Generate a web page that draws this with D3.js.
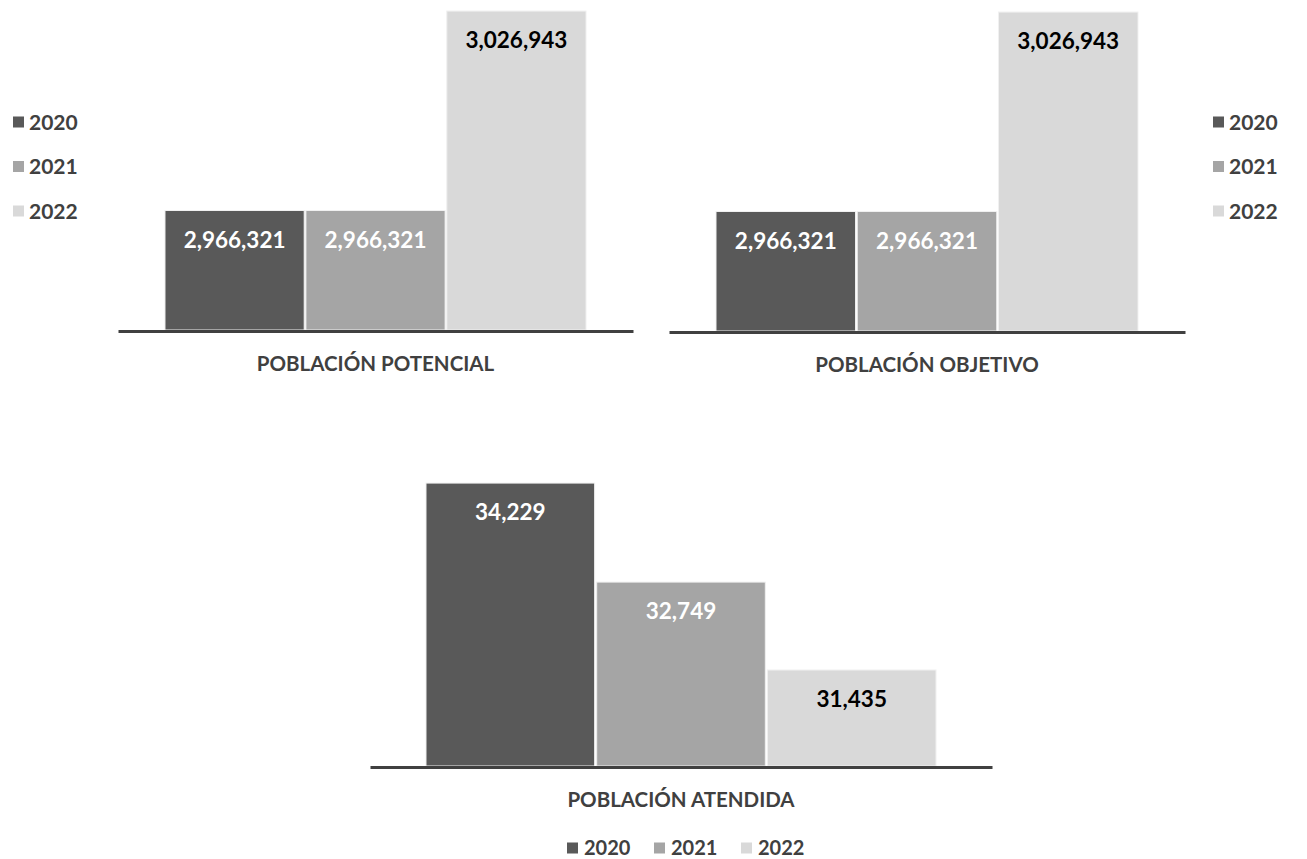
<!DOCTYPE html>
<html>
<head>
<meta charset="utf-8">
<script src="https://cdn.jsdelivr.net/npm/d3@7"></script>
<style>
  html, body { margin: 0; padding: 0; background: #ffffff; }
  svg { display: block; }
  text { font-family: Lato, "Open Sans", sans-serif; font-weight: 700; }
</style>
</head>
<body>
<svg id="chart" width="1307" height="859"></svg>
<script>
// ---- data ----
const years = ["2020", "2021", "2022"];
const categories = ["POBLACIÓN POTENCIAL", "POBLACIÓN OBJETIVO", "POBLACIÓN ATENDIDA"];
const potencial = [2966321, 2966321, 3026943];
const objetivo = [2966321, 2966321, 3026943];
const atendida = [34229, 32749, 31435];
const yDomainTop = [2930000, 3030000];
const yDomainBottom = [30000, 35000];

const colors = d3.scaleOrdinal().domain(years).range(["#595959", "#a5a5a5", "#d9d9d9"]);
const labelColors = d3.scaleOrdinal().domain(years).range(["#ffffff", "#ffffff", "#000000"]);
const fmt = d3.format(",");

const svg = d3.select("#chart");

const panels = [
  { cat: categories[0], values: potencial, axis: [118, 633], base: 330, pad: 0.1116, domain: yDomainTop, pxHeight: 329 },
  { cat: categories[1], values: objetivo, axis: [669, 1185], base: 331, pad: 0.1114, domain: yDomainTop, pxHeight: 329 },
  { cat: categories[2], values: atendida, axis: [370, 992], base: 766, pad: 0.1098, domain: yDomainBottom, pxHeight: 334.5 }
];

panels.forEach(p => {
  const g = svg.append("g");
  const xOuter = d3.scaleBand().domain([p.cat]).range(p.axis).paddingOuter(p.pad).paddingInner(0);
  const x = d3.scaleBand().domain(years)
    .range([xOuter(p.cat), xOuter(p.cat) + xOuter.bandwidth()])
    .paddingInner(0.012).paddingOuter(0);
  const y = d3.scaleLinear().domain(p.domain).range([p.base, p.base - p.pxHeight]);

  const data = years.map((yr, i) => ({ year: yr, value: p.values[i] }));

  g.selectAll("rect.bar").data(data).join("rect")
    .attr("class", "bar")
    .attr("x", d => x(d.year))
    .attr("width", x.bandwidth())
    .attr("y", d => y(d.value))
    .attr("height", d => y(p.domain[0]) - y(d.value))
    .attr("fill", d => colors(d.year))
    .attr("stroke", "#f0f0f0")
    .attr("stroke-width", 1);

  g.selectAll("text.val").data(data).join("text")
    .attr("class", "val")
    .attr("x", d => x(d.year) + x.bandwidth() / 2)
    .attr("y", d => y(d.value) + 37)
    .attr("text-anchor", "middle")
    .attr("font-size", 22.5)
    .attr("fill", d => labelColors(d.year))
    .text(d => fmt(d.value));

  const axis = d3.axisBottom(xOuter).tickSize(0).tickSizeOuter(0).tickPadding(25);
  const ax = g.append("g").attr("transform", `translate(0,${p.base + 1})`).call(axis);
  ax.select(".domain").attr("stroke", "#404040").attr("stroke-width", 3);
  ax.selectAll(".tick text")
    .attr("font-size", 20.5)
    .attr("font-family", "Lato, sans-serif")
    .attr("font-weight", 700)
    .attr("fill", "#404040");
});

// ---- legends ----
function verticalLegend(x0, y0) {
  const lg = svg.append("g").attr("transform", `translate(${x0},${y0})`);
  const items = lg.selectAll("g").data(years).join("g")
    .attr("transform", (d, i) => `translate(0,${i * 44.5})`);
  items.append("rect").attr("x", 0).attr("y", -5.5).attr("width", 11).attr("height", 11)
    .attr("fill", d => colors(d));
  items.append("text").attr("x", 16).attr("y", 7.5).attr("font-size", 21)
    .attr("fill", "#404040").text(d => d);
}
verticalLegend(13, 122);
verticalLegend(1213, 122);

const hl = svg.append("g").attr("transform", "translate(567,848)");
const hItems = hl.selectAll("g").data(years).join("g")
  .attr("transform", (d, i) => `translate(${i * 87},0)`);
hItems.append("rect").attr("x", 0).attr("y", -5.5).attr("width", 11).attr("height", 11)
  .attr("fill", d => colors(d));
hItems.append("text").attr("x", 17).attr("y", 7).attr("font-size", 20)
  .attr("fill", "#404040").text(d => d);
</script>
</body>
</html>
